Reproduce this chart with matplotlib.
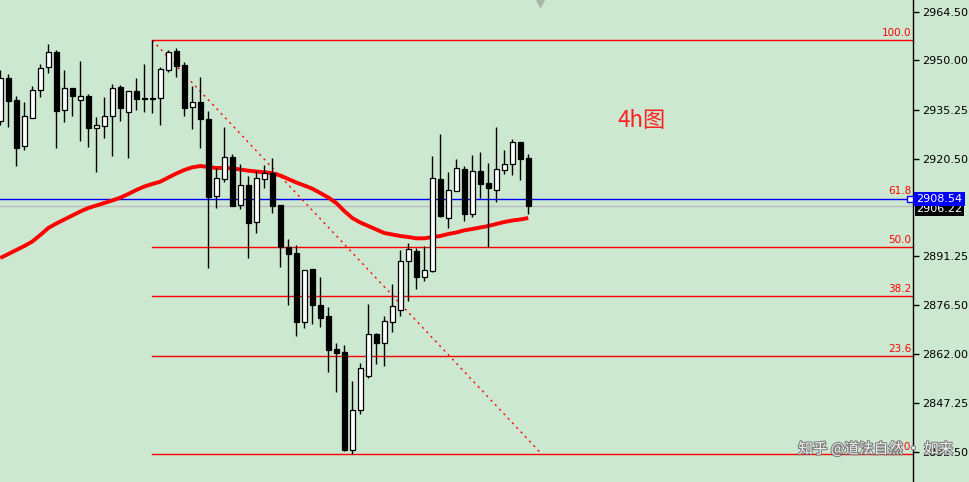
import matplotlib
matplotlib.use("Agg")
import matplotlib.pyplot as plt
import matplotlib.patheffects as pe
import numpy as np

plt.rcParams['font.family'] = ['DejaVu Sans', 'Noto Sans CJK SC']

# OHLC of the 4h candles
opens = [2931.8, 2944.6, 2938.0, 2924.2, 2932.8, 2941.0, 2947.9, 2952.5, 2935.0, 2941.7,
         2938.0, 2939.3, 2929.6, 2930.4, 2933.2, 2942.0, 2934.6, 2940.8, 2938.6, 2938.6,
         2938.6, 2947.2, 2952.8, 2948.5, 2935.9, 2937.4, 2932.3, 2909.2, 2914.3, 2920.9,
         2906.5, 2912.6, 2901.4, 2914.5, 2916.1, 2906.6, 2893.9, 2892.1, 2871.6, 2887.4,
         2876.6, 2873.3, 2863.4, 2862.5, 2833.1, 2845.0, 2855.2, 2867.8, 2865.3, 2871.4,
         2875.0, 2889.7, 2892.8, 2885.1, 2886.9, 2914.4, 2902.8, 2910.9, 2917.4, 2904.0,
         2916.8, 2913.2, 2911.2, 2917.2, 2918.8, 2925.4, 2920.7]
highs = [2947.1, 2945.8, 2939.2, 2937.4, 2942.3, 2948.9, 2954.9, 2953.1, 2947.1, 2941.7,
         2949.8, 2939.8, 2933.0, 2939.0, 2942.9, 2942.6, 2940.7, 2944.7, 2948.9, 2956.0,
         2947.9, 2953.1, 2953.6, 2949.4, 2942.3, 2944.9, 2934.7, 2917.6, 2929.9, 2921.9,
         2918.9, 2915.3, 2916.8, 2918.6, 2920.6, 2906.6, 2896.3, 2894.5, 2887.0, 2887.4,
         2885.0, 2875.9, 2865.2, 2864.5, 2853.8, 2859.1, 2876.9, 2868.3, 2873.3, 2882.8,
         2893.1, 2895.1, 2893.6, 2894.3, 2921.3, 2927.9, 2916.5, 2920.4, 2918.3, 2921.6,
         2922.5, 2919.2, 2930.1, 2923.1, 2926.4, 2925.4, 2922.0]
lows = [2930.6, 2930.1, 2918.4, 2923.2, 2932.6, 2939.1, 2946.3, 2923.8, 2931.6, 2933.4,
        2925.8, 2924.1, 2916.6, 2926.8, 2921.4, 2931.8, 2920.8, 2935.2, 2934.6, 2934.3,
        2930.6, 2946.6, 2945.1, 2933.4, 2929.5, 2923.8, 2887.8, 2905.6, 2913.4, 2906.4,
        2905.5, 2890.6, 2898.3, 2911.8, 2904.1, 2888.1, 2876.7, 2867.4, 2869.8, 2871.0,
        2870.1, 2856.6, 2850.6, 2832.9, 2831.9, 2843.8, 2854.8, 2859.0, 2858.4, 2868.6,
        2873.4, 2877.9, 2881.5, 2883.9, 2886.6, 2903.1, 2899.8, 2910.9, 2901.9, 2903.0,
        2908.6, 2894.0, 2907.6, 2915.9, 2915.7, 2914.2, 2903.9]
closes = [2944.6, 2937.9, 2923.8, 2933.2, 2941.0, 2947.6, 2952.4, 2934.9, 2941.6, 2939.2,
          2939.2, 2929.6, 2930.6, 2933.3, 2941.6, 2935.8, 2940.7, 2938.5, 2938.3, 2938.3,
          2947.3, 2952.4, 2948.4, 2935.8, 2937.4, 2932.3, 2909.1, 2914.6, 2920.9, 2906.4,
          2912.5, 2901.3, 2914.6, 2916.1, 2906.4, 2893.9, 2892.0, 2871.6, 2887.0, 2876.7,
          2872.8, 2863.2, 2862.3, 2833.1, 2845.0, 2857.7, 2867.8, 2865.3, 2871.7, 2876.2,
          2889.7, 2893.3, 2885.1, 2887.0, 2914.6, 2903.3, 2911.0, 2917.6, 2904.0, 2916.8,
          2913.0, 2911.8, 2917.3, 2918.8, 2925.4, 2920.5, 2906.2]

# moving average (thick red line)
ma = [2890.7, 2891.9, 2893.1, 2894.3, 2895.65, 2897.6, 2899.7, 2901.05, 2902.25, 2903.45,
      2904.65, 2905.7, 2906.45, 2907.2, 2907.95, 2908.8, 2909.9, 2911.1, 2912.15, 2912.9,
      2913.6, 2914.85, 2916.05, 2917.1, 2917.9, 2918.3, 2918.0, 2917.7, 2917.7, 2917.6,
      2917.25, 2916.9, 2916.65, 2916.4, 2916.15, 2915.45, 2914.4, 2913.35, 2912.45, 2911.5,
      2910.2, 2908.85, 2907.2, 2904.8, 2902.7, 2901.35, 2900.3, 2899.25, 2898.2, 2897.75,
      2897.3, 2897.0, 2896.6, 2896.6, 2897.0, 2897.3, 2897.9, 2898.35, 2899.0, 2899.4,
      2899.85, 2900.3, 2900.9, 2901.5, 2901.95, 2902.25, 2902.7]

y_ticks = [2964.50, 2950.00, 2935.25, 2920.50, 2891.25, 2876.50, 2862.00, 2847.25, 2832.50]
fib_ratios = [100.0, 61.8, 50.0, 38.2, 23.6, 0.0]
fib_hi_idx = 19
fib_lo_idx = 44
bid_price = 2908.54
ask_price = 2906.22
trend_end = (67.45, 2832.5)

bg = '#cce8d0'
fig = plt.figure(figsize=(9.7, 4.82), dpi=100, facecolor=bg)
ax = fig.add_axes([0, 0, 913 / 970, 1])
ax.set_facecolor(bg)

n = len(opens)
xs = np.arange(n)

# horizontal price lines
ax.axhline(ask_price, color='#bdbdbd', lw=1, zorder=1)

# fibonacci levels
fib_hi = highs[fib_hi_idx]
fib_lo = lows[fib_lo_idx]
for r in fib_ratios:
    lvl = fib_lo + (fib_hi - fib_lo) * r / 100
    if r != 61.8:
        ax.plot([fib_hi_idx, 114.2], [lvl, lvl], color='#ff0000', lw=1, zorder=1)
    ax.text(0.998, lvl + 0.6, f"{r:.1f}", transform=ax.get_yaxis_transform(),
            ha='right', va='bottom', color='#ff0000', fontsize=7.5, zorder=2)

ax.axhline(bid_price, color='#0000ff', lw=1, zorder=2)

# diagonal dotted line
ax.plot([fib_hi_idx, trend_end[0]], [fib_hi, trend_end[1]], color='#ff0000', lw=1,
        linestyle=(0, (1.5, 3)), zorder=2)

# moving average
ax.plot(xs, ma, color='#ff0000', lw=2.8, zorder=3, solid_capstyle='butt')

# candles
for i in range(n):
    o, h, l, c = opens[i], highs[i], lows[i], closes[i]
    ax.vlines(i, l, h, color='black', lw=1, zorder=4)
    up = c >= o
    bottom = min(o, c)
    height = max(abs(c - o), 0.25)
    ax.bar(i, height, bottom=bottom, width=0.62, color='white' if up else 'black',
           edgecolor='black', lw=0.9, zorder=5)

ax.set_xlim(-0.04, 114.1)
ax.set_ylim(2823.5, 2968.1)

for s in ['top', 'left', 'bottom']:
    ax.spines[s].set_visible(False)
ax.spines['right'].set_color('black')
ax.spines['right'].set_linewidth(1)
ax.set_xticks([])
ax.yaxis.tick_right()
ax.set_yticks(y_ticks)
ax.set_yticklabels([f"{v:.2f}" for v in y_ticks])
ax.tick_params(axis='y', length=4, width=1, pad=2.5, labelsize=8, colors='black')

# price boxes on the axis
ax.annotate(f"{ask_price:.2f}", xy=(1, ask_price - 0.9), xycoords=('axes fraction', 'data'),
            xytext=(2.5, 0), textcoords='offset points', ha='left', va='center',
            color='white', fontsize=8, annotation_clip=False,
            bbox=dict(boxstyle='square,pad=0.12', fc='black', ec='none'))
ax.annotate(f"{bid_price:.2f}", xy=(1, bid_price), xycoords=('axes fraction', 'data'),
            xytext=(2.5, 0), textcoords='offset points', ha='left', va='center',
            color='white', fontsize=8, annotation_clip=False,
            bbox=dict(boxstyle='square,pad=0.18', fc='#0000ff', ec='none'))
ax.plot([0.997], [bid_price], marker='s', ms=4, mfc='white', mec='#0000ff', mew=1,
        transform=ax.get_yaxis_transform(), clip_on=False, zorder=6)

# chart shift marker
ax.plot([67.5], [2967.6], marker='v', ms=7, color='#a8b8a8', clip_on=False, zorder=6)

# annotation text
ax.text(77.2, 2932.0, "4h图", color='#ff2020', fontsize=16,
        family=['Noto Sans CJK SC', 'DejaVu Sans'], ha='left', va='center')

# watermark
fig.text(0.823, 0.068, "知乎 @道法自然 · 如来", color='white', fontsize=10.5,
         family=['Noto Sans CJK SC', 'DejaVu Sans'], alpha=0.9, ha='left', va='center',
         path_effects=[pe.withStroke(linewidth=1.5, foreground='#707070')])

fig.savefig("out.png", dpi=100, facecolor=bg)
